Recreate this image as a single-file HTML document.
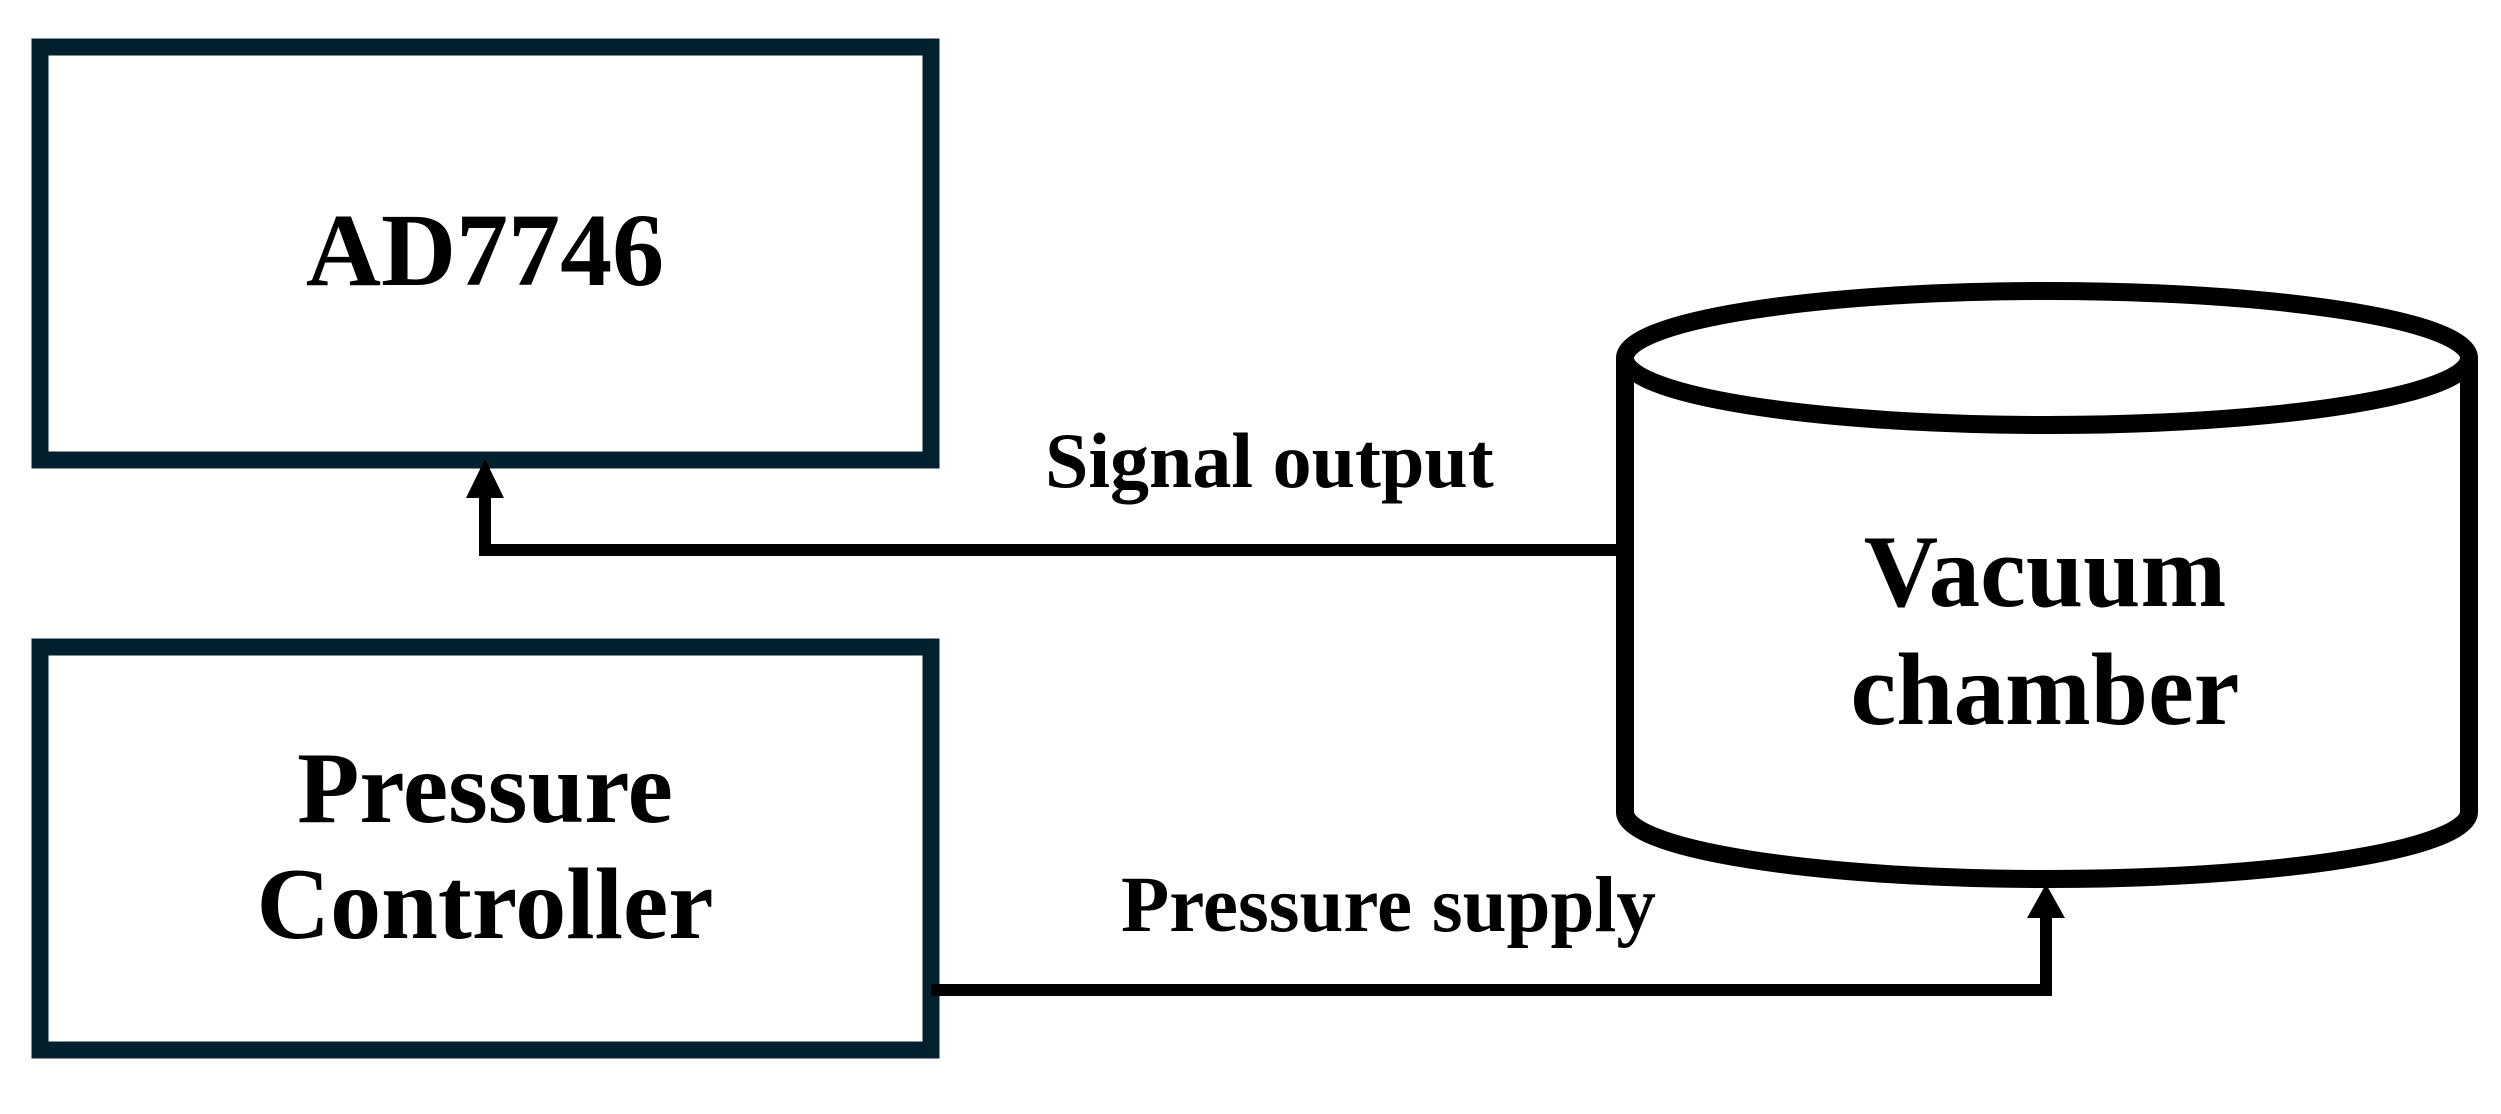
<!DOCTYPE html>
<html><head><meta charset="utf-8"><style>html,body{margin:0;padding:0;background:#fff}</style></head>
<body>
<svg width="2501" height="1109" viewBox="0 0 2501 1109" xmlns="http://www.w3.org/2000/svg" font-family="'Liberation Serif', serif" font-weight="bold" fill="#000">
<rect x="40" y="47" width="891" height="413" fill="#fff" stroke="#03202f" stroke-width="17"/>
<rect x="40" y="647" width="891" height="403" fill="#fff" stroke="#03202f" stroke-width="17"/>
<text x="485" y="285" font-size="104" text-anchor="middle">AD7746</text>
<text x="485" y="822" font-size="102" text-anchor="middle">Pressure</text>
<text x="485" y="938" font-size="102" text-anchor="middle">Controller</text>
<!-- cylinder -->
<path d="M1625 358 L1625 812 A422 67 0 0 0 2469 812 L2469 358" fill="#fff" stroke="#000" stroke-width="18"/>
<ellipse cx="2047" cy="358" rx="422" ry="67" fill="#fff" stroke="#000" stroke-width="18"/>
<text x="2045" y="606" font-size="103" text-anchor="middle">Vacuum</text>
<text x="2045" y="724" font-size="103" text-anchor="middle">chamber</text>
<!-- signal line -->
<polyline points="1618,550 485,550 485,495" fill="none" stroke="#000" stroke-width="12"/>
<polygon points="485,459 466,498 504,498"/>
<text x="1045" y="487" font-size="78">Signal output</text>
<!-- pressure line -->
<polyline points="931,990 2046,990 2046,912" fill="none" stroke="#000" stroke-width="12"/>
<polygon points="2046,884 2027,918 2065,918"/>
<text x="1121" y="931" font-size="79">Pressure supply</text>
</svg>
</body></html>
